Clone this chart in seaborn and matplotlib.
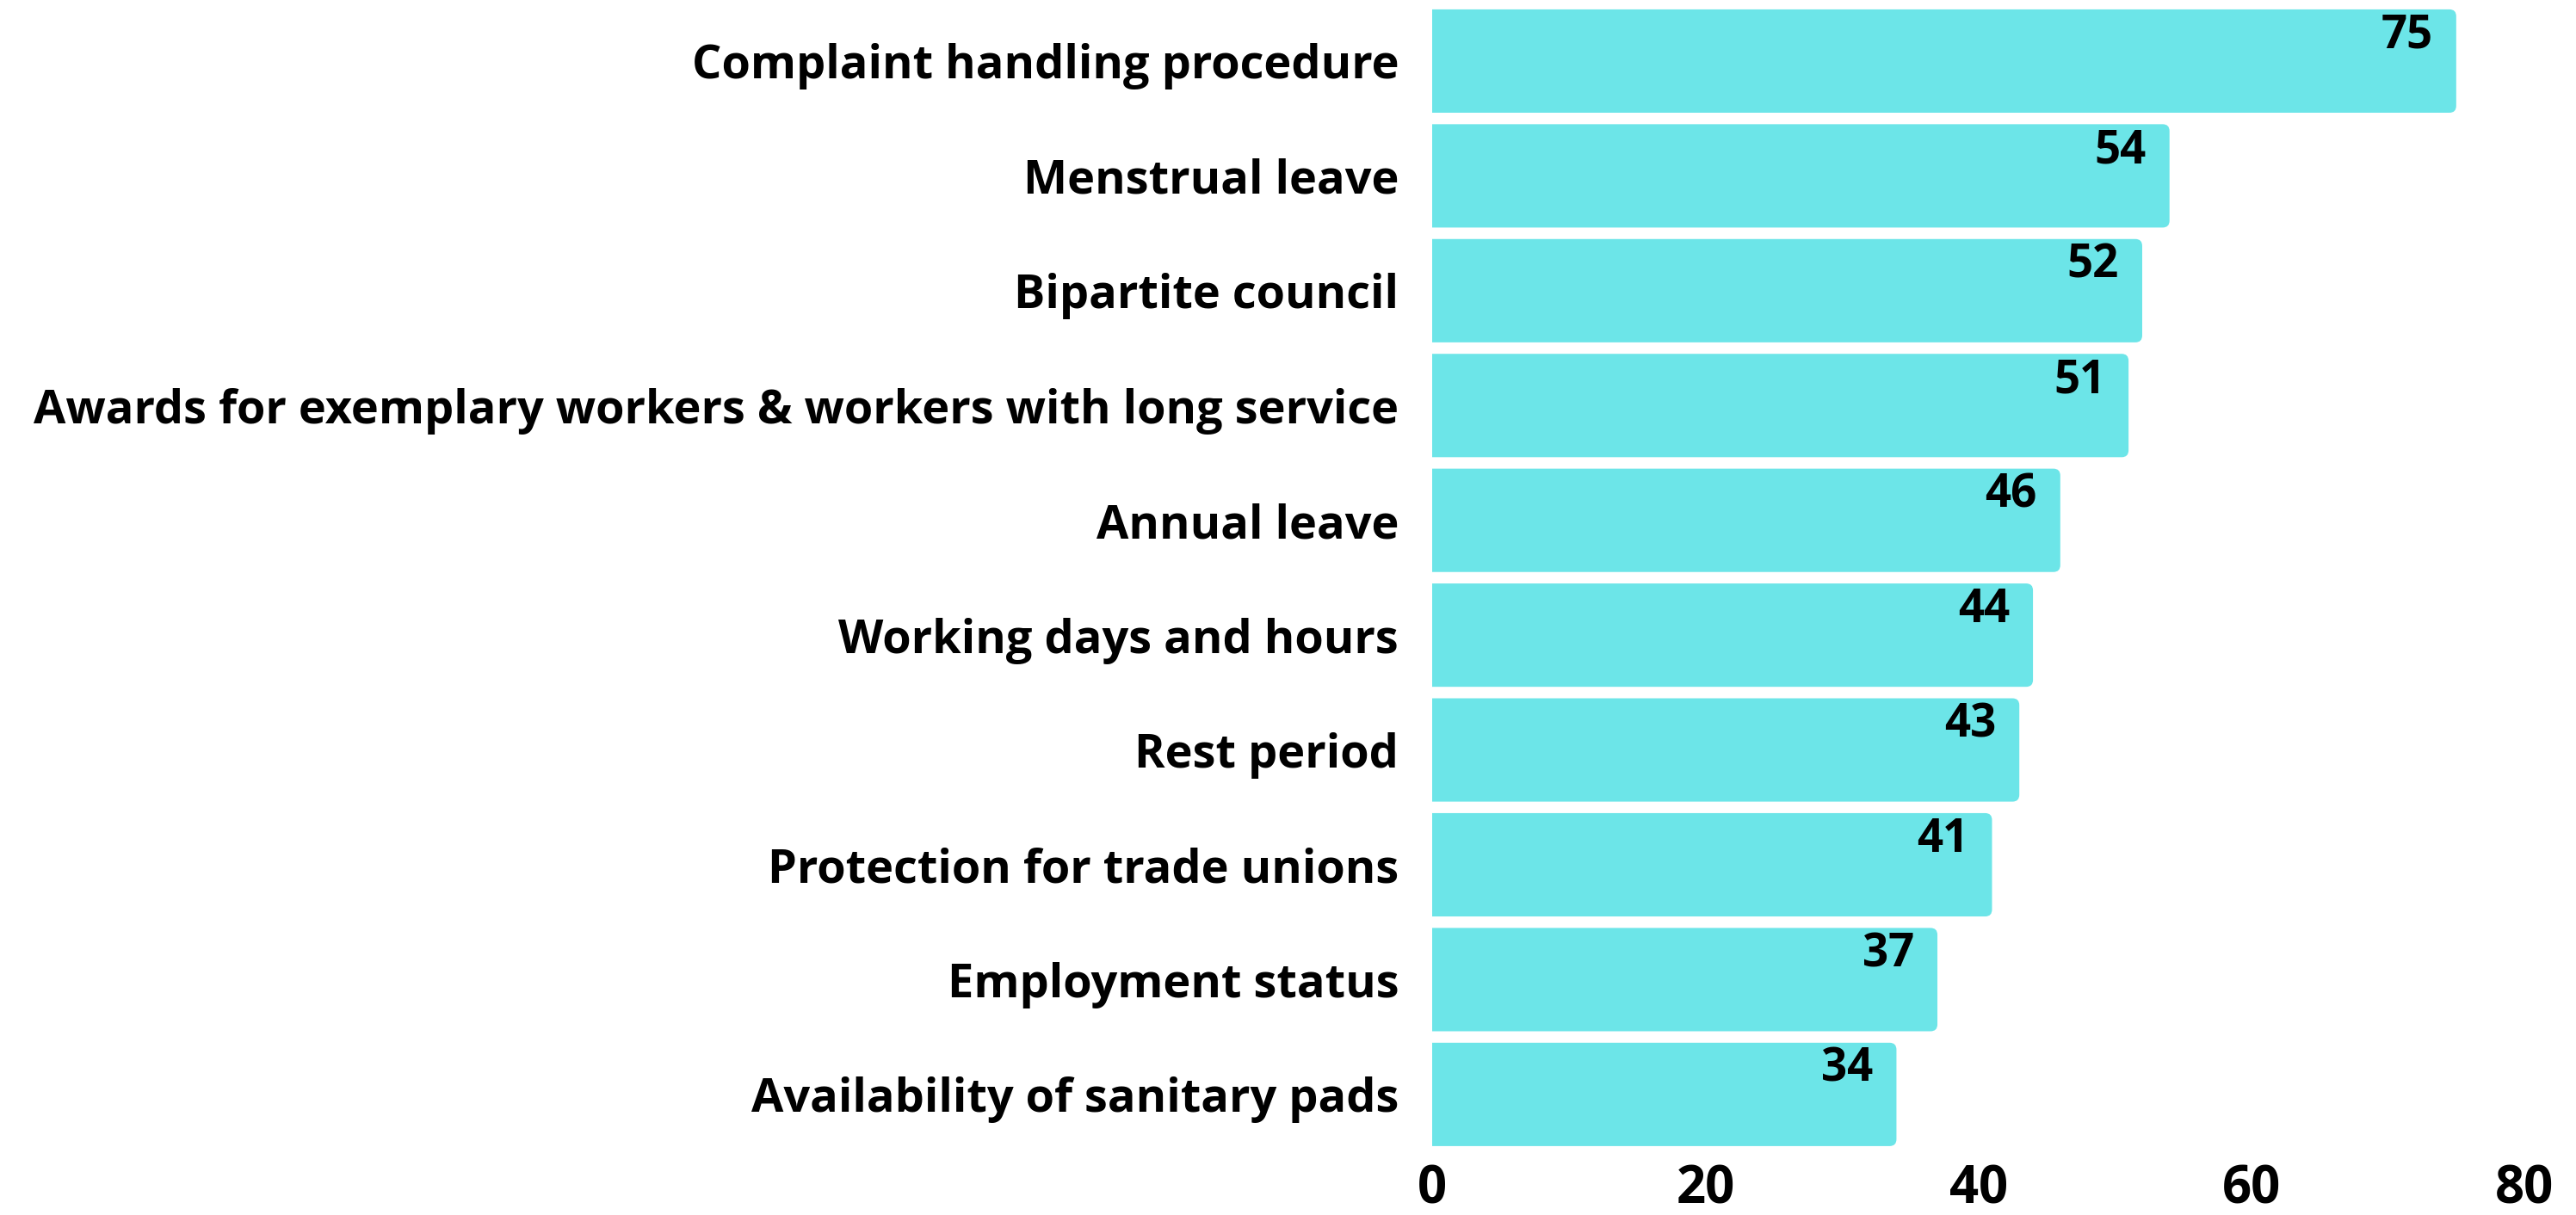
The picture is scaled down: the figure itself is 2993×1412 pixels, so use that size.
import pandas as pd
import matplotlib.pyplot as plt
import seaborn as sns
from matplotlib.patches import FancyBboxPatch

kategori = [
    'Complaint handling procedure',
    'Menstrual leave',
    'Bipartite council',
    'Awards for exemplary workers & workers with long service',
    'Annual leave',
    'Working days and hours',
    'Rest period',
    'Protection for trade unions',
    'Employment status',
    'Availability of sanitary pads',
]
nilai = [75, 54, 52, 51, 46, 44, 43, 41, 37, 34]
xticks = [0, 20, 40, 60, 80]

data = pd.DataFrame({'Kategori': kategori, 'Nilai': nilai})

sns.set_style('white')
plt.rcParams['font.family'] = ['Open Sans', 'DejaVu Sans']

fig = plt.figure(figsize=(29.93, 14.12), dpi=100)
ax = fig.add_axes([0.556, 0.052, 0.424, 0.945])

warna = '#6ce5e8'
sns.barplot(x='Nilai', y='Kategori', data=data, color=warna, width=0.9,
            saturation=1, ax=ax)

# ganti batang jadi sudut membulat
for p in list(ax.patches):
    x0, y0 = p.get_x(), p.get_y()
    w, h = p.get_width(), p.get_height()
    p.remove()
    kotak = FancyBboxPatch((x0 - 2, y0), w + 2, h,
                           boxstyle='round,pad=0,rounding_size=0.5',
                           mutation_aspect=0.12, facecolor=warna,
                           edgecolor='none', clip_on=True)
    ax.add_patch(kotak)
    ax.text(x0 + w - 1.7, y0 + 0.03, str(int(w)), ha='right', va='top',
            fontsize=38, fontweight='bold', color='black')

ax.set_xlim(0, 80)
ax.set_ylim(9.5, -0.5)
ax.set_xticks(xticks)
ax.set_xticklabels([str(t) for t in xticks], fontsize=43, fontweight='bold',
                   color='black')
ax.set_yticklabels(kategori, fontsize=39, fontweight='bold', color='black')
ax.tick_params(axis='y', length=0, pad=28)
ax.tick_params(axis='x', length=0, pad=10)
ax.set_xlabel('')
ax.set_ylabel('')
sns.despine(ax=ax, left=True, bottom=True)

fig.savefig('out.png', dpi=100, facecolor='white')
